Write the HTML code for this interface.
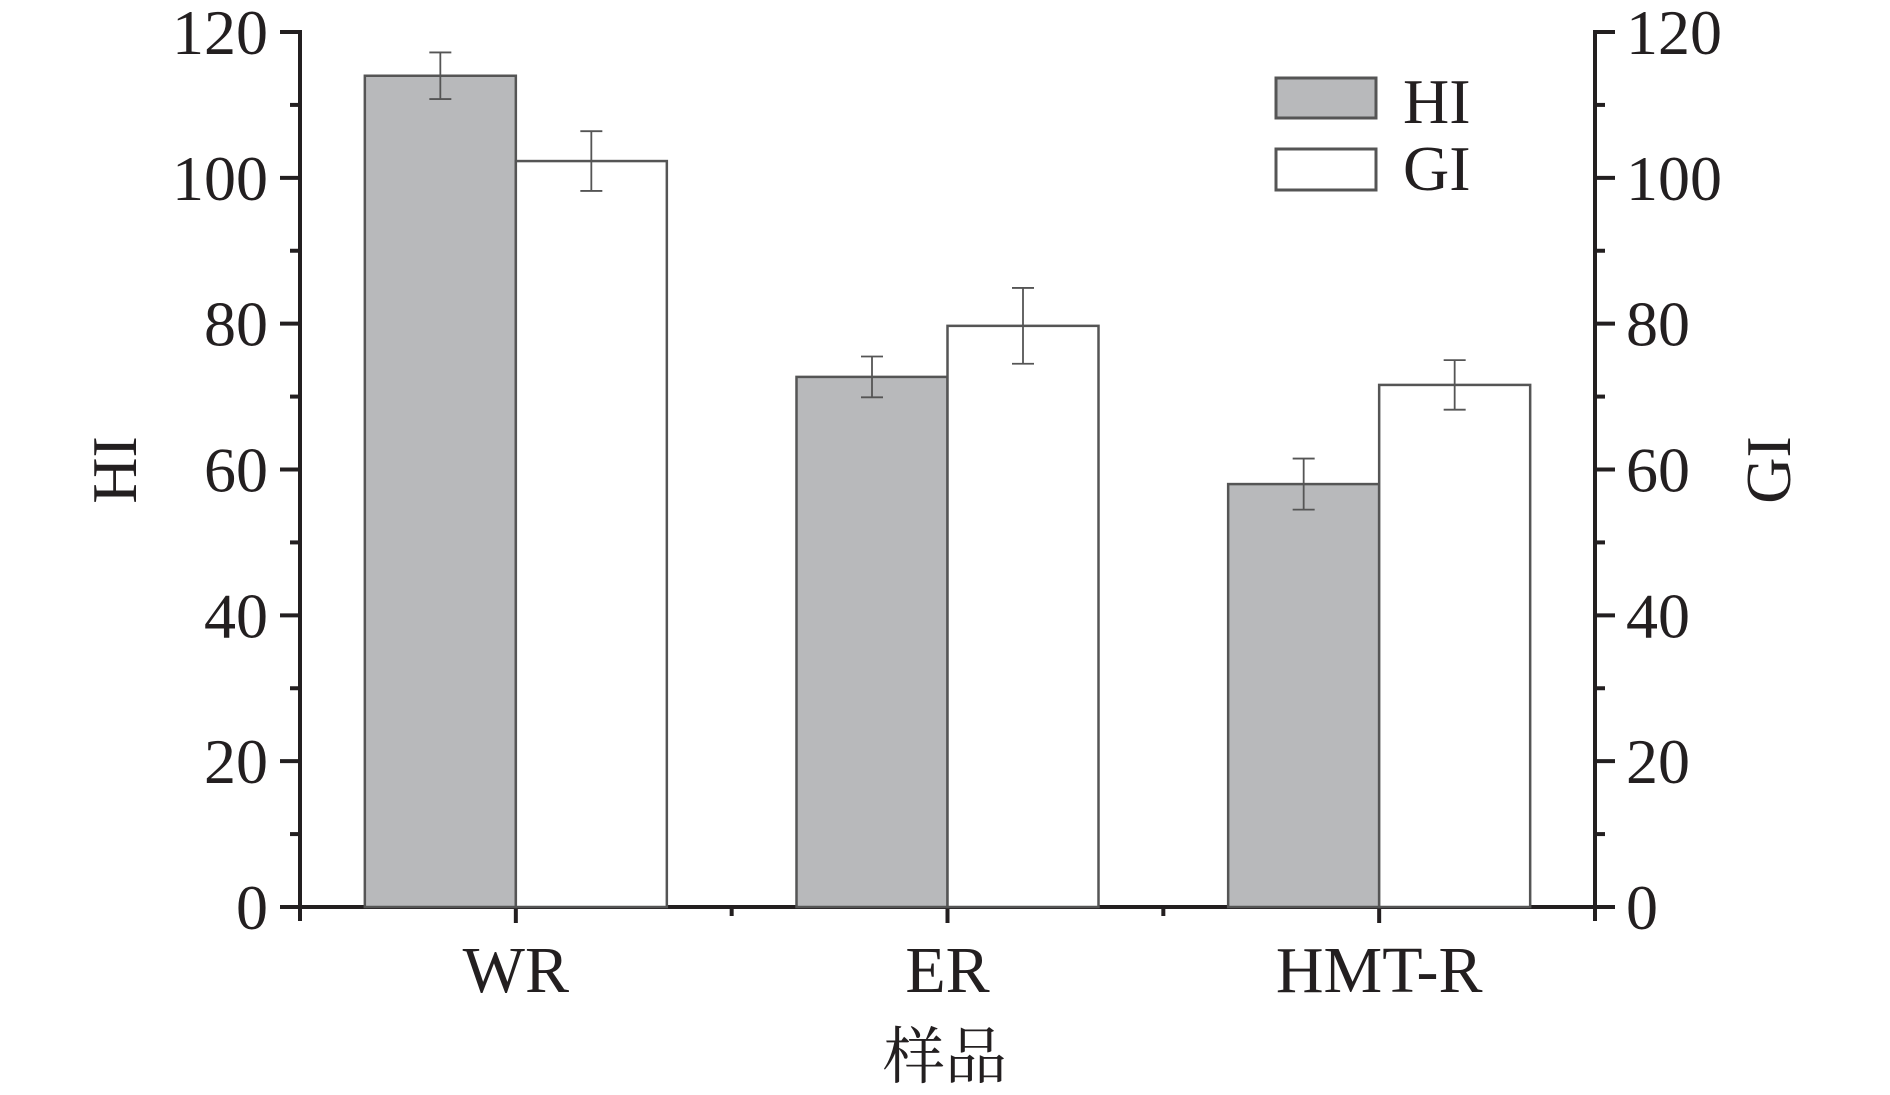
<!DOCTYPE html>
<html lang="en"><head><meta charset="utf-8">
<style>
html,body{margin:0;padding:0;background:#fff;}
svg{display:block;}
text{font-family:"Liberation Serif","Times New Roman",serif;fill:#231f20;}
text.cjk{font-family:"Liberation Serif","Noto Serif CJK SC",serif;}
</style></head>
<body>
<svg id="chart" width="1890" height="1095" viewBox="0 0 1890 1095" xmlns="http://www.w3.org/2000/svg" font-family="Liberation Serif, serif">
<g id="axes"></g>
<g id="bars"></g>
<g id="legend">
  <rect x="1276" y="78" width="100" height="40" fill="#b8b9bb" stroke="#555" stroke-width="3"/>
  <text x="1403" y="123" font-size="64">HI</text>
  <rect x="1276" y="149" width="100" height="41" fill="#fff" stroke="#555" stroke-width="3"/>
  <text x="1403" y="190" font-size="64">GI</text>
</g>
<text x="0" y="0" font-size="64" text-anchor="middle" transform="translate(136,470) rotate(-90)">HI</text>
<text x="0" y="0" font-size="64" text-anchor="middle" transform="translate(1790,470) rotate(-90)">GI</text>
<text class="cjk" x="945" y="1078" font-size="62" text-anchor="middle">样品</text>
</svg>
<script>
const categories = ["WR", "ER", "HMT-R"];
const hiValues = [114.0, 72.7, 58.0];
const hiErrors = [3.2, 2.8, 3.5];
const giValues = [102.3, 79.7, 71.6];
const giErrors = [4.1, 5.2, 3.4];
const yTicks = [0, 20, 40, 60, 80, 100, 120];

const NS = "http://www.w3.org/2000/svg";
const X0 = 300, X1 = 1595, Y0 = 907, Y1 = 32, YMAX = 120;
const band = (X1 - X0) / categories.length;
const barW = 151;
function y(v){ return Y0 - (v / YMAX) * (Y0 - Y1); }
function xc(i){ return X0 + band * (i + 0.5); }
function mk(tag, attrs, parent){
  const e = document.createElementNS(NS, tag);
  for (const k in attrs) e.setAttribute(k, attrs[k]);
  parent.appendChild(e);
  return e;
}
const axes = document.getElementById("axes");
const bars = document.getElementById("bars");

function drawSeries(vals, errs, offset, fill, name){
  vals.forEach((v, i) => {
    const x = xc(i) + offset;
    const r = mk("rect", {x: x, y: y(v), width: barW, height: Y0 - y(v), fill: fill, stroke: "#555", "stroke-width": 2.5}, bars);
    
    
    const cx = x + barW / 2, e = errs[i];
    const g = mk("g", {stroke: "#555", "stroke-width": 1.8, fill: "none"}, bars);
    
    
    mk("line", {x1: cx, x2: cx, y1: y(v + e), y2: y(v - e)}, g);
    mk("line", {x1: cx - 11, x2: cx + 11, y1: y(v + e), y2: y(v + e)}, g);
    mk("line", {x1: cx - 11, x2: cx + 11, y1: y(v - e), y2: y(v - e)}, g);
  });
}
drawSeries(hiValues, hiErrors, -barW, "#b8b9bb", "hi");
drawSeries(giValues, giErrors, 0, "#ffffff", "gi");

const st = {stroke: "#231f20", "stroke-width": 4};
let l;
l = mk("line", Object.assign({x1: X0, x2: X0, y1: Y1 - 2, y2: Y0 + 14}, st), axes);


l = mk("line", Object.assign({x1: X1, x2: X1, y1: Y1 - 2, y2: Y0 + 14}, st), axes);


l = mk("line", Object.assign({x1: X0 - 20, x2: X1 + 20, y1: Y0, y2: Y0}, st), axes);



yTicks.forEach(t => {
  const yy = y(t);
  mk("line", Object.assign({x1: X0 - 20, x2: X0, y1: yy, y2: yy}, st), axes);
  mk("line", Object.assign({x1: X1, x2: X1 + 20, y1: yy, y2: yy}, st), axes);
  const a = mk("text", {x: 268, y: yy + 22, "font-size": 64, "text-anchor": "end"}, axes);
  a.textContent = t;
  
  
  const b = mk("text", {x: 1626, y: yy + 22, "font-size": 64, "text-anchor": "start"}, axes);
  b.textContent = t;
  
  
  if (t < YMAX) {
    const ym = y(t + 10);
    mk("line", Object.assign({x1: X0 - 10, x2: X0, y1: ym, y2: ym}, st), axes);
    mk("line", Object.assign({x1: X1, x2: X1 + 10, y1: ym, y2: ym}, st), axes);
  }
});
categories.forEach((c, i) => {
  const x = xc(i);
  mk("line", Object.assign({x1: x, x2: x, y1: Y0, y2: Y0 + 16}, st), axes);
  const tl = mk("text", {x: x, y: 992, "font-size": 66, "text-anchor": "middle"}, axes);
  tl.textContent = c;
  
  
});
for (let i = 1; i < categories.length; i++) {
  const x = X0 + band * i;
  mk("line", Object.assign({x1: x, x2: x, y1: Y0, y2: Y0 + 9}, st), axes);
}
</script>
</body></html>
